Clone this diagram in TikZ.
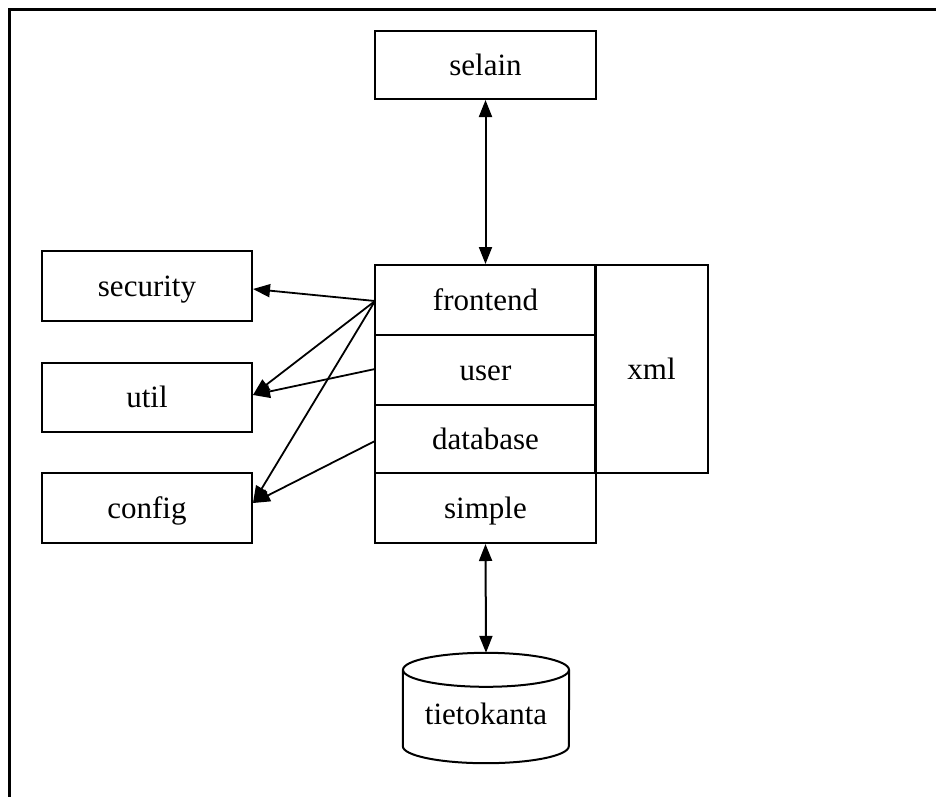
\documentclass[tikz,border=0pt]{standalone}
\usepackage{fontspec}
\setmainfont{Liberation Serif}
\usetikzlibrary{arrows.meta}
\begin{document}
\begin{tikzpicture}[x=1pt,y=-1pt,
  box/.style={draw,line width=2pt,rectangle,inner sep=0pt,text height=26pt,text depth=6pt,
    font=\fontsize{31}{31}\selectfont},
  link/.style={line width=1.8pt,-{Triangle[length=17pt,width=13pt]}},
  both/.style={line width=2pt,{Triangle[length=17pt,width=13pt]}-{Triangle[length=17pt,width=13pt]}}]
\useasboundingbox (0,0) rectangle (936,796);
% partial outer frame
\draw[line width=3.4pt] (9.6,800) -- (9.6,9.6) -- (940,9.6);

% browser on top
\node[box,minimum width=221pt,minimum height=68pt] (selain) at (485.5,65) {selain};

% application column
\node[box,minimum width=221pt,minimum height=70pt] (frontend) at (485.5,300) {frontend};
\node[box,minimum width=221pt,minimum height=70pt] (user) at (485.5,370) {user};
\node[box,minimum width=221pt,minimum height=68pt] (database) at (485.5,439) {database};
\node[box,minimum width=221pt,minimum height=70pt] (simple) at (485.5,508) {simple};
\node[box,minimum width=113pt,minimum height=208pt] (xml) at (651.5,369) {xml};

% helper packages
\node[box,minimum width=210pt,minimum height=70pt] (security) at (147,286) {security};
\node[box,minimum width=210pt,minimum height=69pt] (util) at (147,397.5) {util};
\node[box,minimum width=210pt,minimum height=70pt] (config) at (147,508) {config};

% database cylinder: label node spans the whole drum, outline drawn from its anchors
\node[rectangle,inner sep=0pt,minimum width=166pt,minimum height=110pt,
  text height=26pt,text depth=6pt,font=\fontsize{31}{31}\selectfont]
  (tietokanta) at (486,708) {\raisebox{-6pt}{tietokanta}};
\draw[line width=2pt]
  ([yshift=-17pt]tietokanta.north west) -- ([yshift=17pt]tietokanta.south west)
  arc[start angle=180,end angle=360,x radius=83pt,y radius=17pt]
  -- ([yshift=-17pt]tietokanta.north east);
\draw[line width=2pt] ([yshift=-17pt]tietokanta.north) ellipse [x radius=83pt,y radius=17pt];

% connectors
\draw[both] (selain.south) -- (frontend.north);
\draw[both] (simple.south) -- (tietokanta.north);

\coordinate (fe) at (375,301);
\coordinate (us) at (375,369);
\coordinate (db) at (375,441);
\draw[link] (fe) -- (security.east |- 0,289);
\draw[link] (fe) -- (util.east |- 0,395);
\draw[link] (us) -- (util.east |- 0,395);
\draw[link] (fe) -- (config.east |- 0,503);
\draw[link] (db) -- (config.east |- 0,503);
\end{tikzpicture}
\end{document}
